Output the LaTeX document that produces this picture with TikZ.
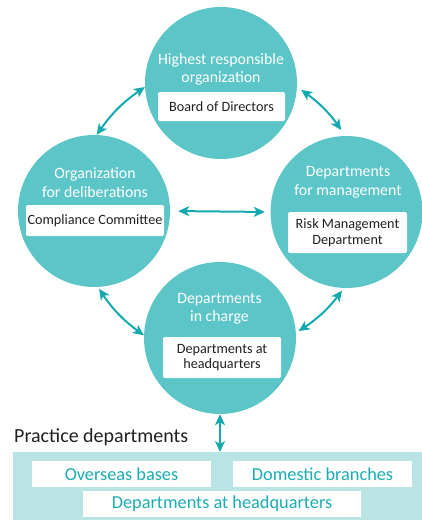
\documentclass[tikz,border=0pt]{standalone}
\usepackage{fontspec}
\setmainfont{Carlito}
\usetikzlibrary{arrows.meta}
\definecolor{circfill}{HTML}{5BC5C7}
\definecolor{arr}{HTML}{14A9AE}
\definecolor{pale}{HTML}{BAE3E4}
\definecolor{tealtxt}{HTML}{1AADB2}
\definecolor{ink}{HTML}{231F20}
\begin{document}
\begin{tikzpicture}[x=1pt,y=-1pt,
  circ/.style={circle, fill=circfill, minimum size=152pt, inner sep=0pt},
  title/.style={text=white, font=\fontsize{15.8}{18.5}\selectfont, align=center, inner sep=0pt},
  wbox/.style={fill=white, rounded corners=2pt, inner sep=0pt, text=ink, font=\fontsize{14.2}{15.5}\selectfont, align=center},
  tbox/.style={fill=white, inner sep=0pt, text=tealtxt, font=\fontsize{18.3}{20}\selectfont, minimum height=26pt},
  link/.style={draw=arr, line width=2pt, {Stealth[length=11pt,width=10pt,inset=3pt]}-{Stealth[length=11pt,width=10pt,inset=3pt]}}
]
\useasboundingbox (0,0) rectangle (422,520);
% circles
\node[circ] (top) at (221,83) {};
\node[circ] (left) at (94,211) {};
\node[circ] (right) at (346.5,212) {};
\node[circ] (bot) at (220,338) {};
% titles
\node[title] (ttop) at (221,69.5) {Highest responsible\\organization};
\node[title] (tleft) at (95,182.5) {Organization\\for deliberations};
\node[title] (tright) at (348,182.5) {Departments\\for management};
\node[title] (tbot) at (219.5,309) {Departments\\in charge};
% white boxes
\node[wbox, minimum width=127pt, minimum height=29pt] (btop) at (221.5,106.5) {Board of Directors};
\node[wbox, minimum width=138pt, minimum height=31pt] (bleft) at (95,220.5) {Compliance Committee};
\node[wbox, minimum width=119pt, minimum height=41pt] (bright) at (347.5,232.5) {Risk Management\\Department};
\node[wbox, minimum width=118pt, minimum height=41pt] (bbot) at (222,357.5) {Departments at\\headquarters};
% practice
\node[anchor=west, inner sep=0pt, text=ink, font=\fontsize{20}{22}\selectfont] (ptitle) at (14,437) {Practice departments};
\node[fill=pale, inner sep=0pt, minimum width=409pt, minimum height=68pt, anchor=north west] (prac) at (13,452) {};
\node[tbox, minimum width=179pt] (over) at (121.5,474) {Overseas bases};
\node[tbox, minimum width=179pt] (dom) at (322.5,474) {Domestic branches};
\node[tbox, minimum width=278pt] (hq) at (222,504) {Departments at headquarters};
% connectors
\draw[link] (left.88) to[bend left=10] (top.183);
\draw[link, shorten <=5pt, shorten >=7pt] (top.-3.5) to[bend left=10] (right.91);
\draw[link, shorten <=2pt] (left.-87) to[bend right=10] (bot.178);
\draw[link, shorten <=3pt, shorten >=3pt] (bot.4) to[bend right=10] (right.-92.5);
\draw[link, shorten <=8pt, shorten >=5.5pt] (left.east) -- (right.west);
\draw[link] (bot.south) -- (bot.south |- prac.north);
\end{tikzpicture}
\end{document}
